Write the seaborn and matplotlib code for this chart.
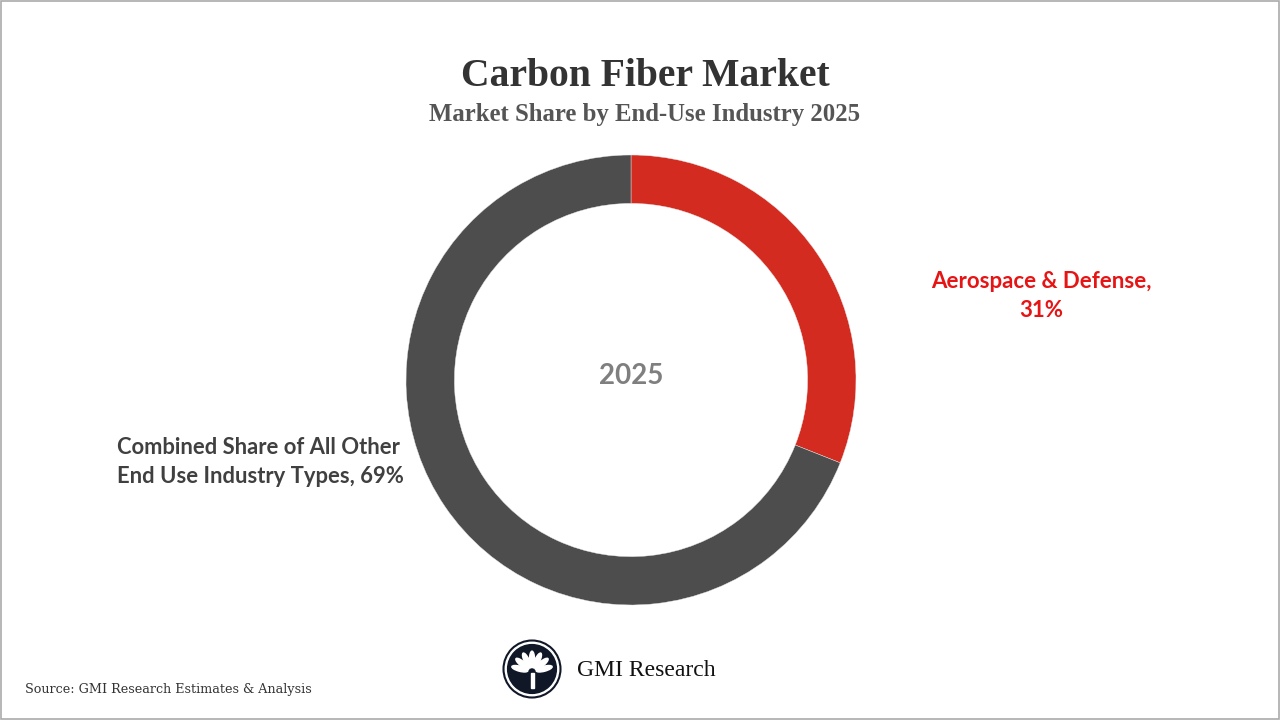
import matplotlib
matplotlib.use("Agg")
import numpy as np
import matplotlib.pyplot as plt
import seaborn as sns
from matplotlib.patches import Circle, Ellipse, Rectangle

# data
segments = ["Aerospace & Defense", "Combined Share of All Other End Use Industry Types"]
shares = [31, 69]
colors = ["#D42B20", "#4D4D4D"]
center_label = "2025"

sns.set_theme(style="white")
plt.rcParams["font.family"] = ["Lato", "DejaVu Sans"]

fig = plt.figure(figsize=(12.8, 7.2), dpi=100)
fig.patch.set_facecolor("white")

# donut, centre at about (631, 380) px, outer radius 225 px
ax = fig.add_axes([(631 - 225) / 1280, (720 - 605) / 720, 450 / 1280, 450 / 720])
ax.pie(shares, colors=colors, startangle=90, counterclock=False,
       wedgeprops=dict(width=0.215, edgecolor="#E8E8E8", linewidth=0.3))
ax.set_aspect("equal")
ax.set_xlim(-1, 1)
ax.set_ylim(-1, 1)
ax.axis("off")
ax.text(0, 0.02, center_label, ha="center", va="center", fontsize=20,
        fontweight="bold", color="#7F7F7F")

# titles
fig.text(645 / 1280, 1 - 77 / 720, "Carbon Fiber Market", ha="center", va="center",
         fontsize=28.5, fontweight="bold", color="#333333", family="Liberation Serif")
fig.text(645 / 1280, 1 - 114 / 720, "Market Share by End-Use Industry 2025",
         ha="center", va="center", fontsize=17.8, fontweight="bold", color="#555555",
         family="Liberation Serif")

# labels
fig.text(1041 / 1280, 1 - 296 / 720, f"{segments[0]},\n{shares[0]}%", ha="center",
         va="center", fontsize=16, fontweight="bold", color="#E61414", linespacing=1.45)
fig.text(117 / 1280, 1 - 462 / 720, "Combined Share of All Other\nEnd Use Industry Types, "
         f"{shares[1]}%", ha="left", va="center", fontsize=15.8, fontweight="bold",
         color="#404040", linespacing=1.45)

# footer logo
lax = fig.add_axes([(532 - 30) / 1280, (720 - 699) / 720, 60 / 1280, 60 / 720])
lax.set_xlim(-1, 1)
lax.set_ylim(-1, 1)
lax.set_aspect("equal")
lax.axis("off")
lax.add_patch(Circle((0, 0), 0.95, facecolor="white", edgecolor="#101828", linewidth=1.5))
lax.add_patch(Circle((0, 0), 0.86, facecolor="#101828"))
for ang in [-75, -50, -25, 0, 25, 50, 75]:
    r = np.radians(ang)
    lax.add_patch(Ellipse((0.42 * np.sin(r), -0.1 + 0.42 * np.cos(r)), 0.17, 0.55,
                          angle=-ang, facecolor="white"))
lax.add_patch(Rectangle((-0.05, -0.62), 0.1, 0.5, facecolor="white"))
fig.text(577 / 1280, 1 - 670 / 720, "GMI Research", ha="left", va="center", fontsize=17,
         color="#111111", family="Liberation Serif")

fig.text(25 / 1280, 1 - 689 / 720, "Source: GMI Research Estimates & Analysis", ha="left",
         va="center", fontsize=9.2, color="#333333", family="DejaVu Serif")

# frame
fig.add_artist(Rectangle((0.001, 0.002), 0.998, 0.996, transform=fig.transFigure,
                         fill=False, edgecolor="#AAAAAA", linewidth=1.2))

fig.savefig("out.png", dpi=100, facecolor="white")
